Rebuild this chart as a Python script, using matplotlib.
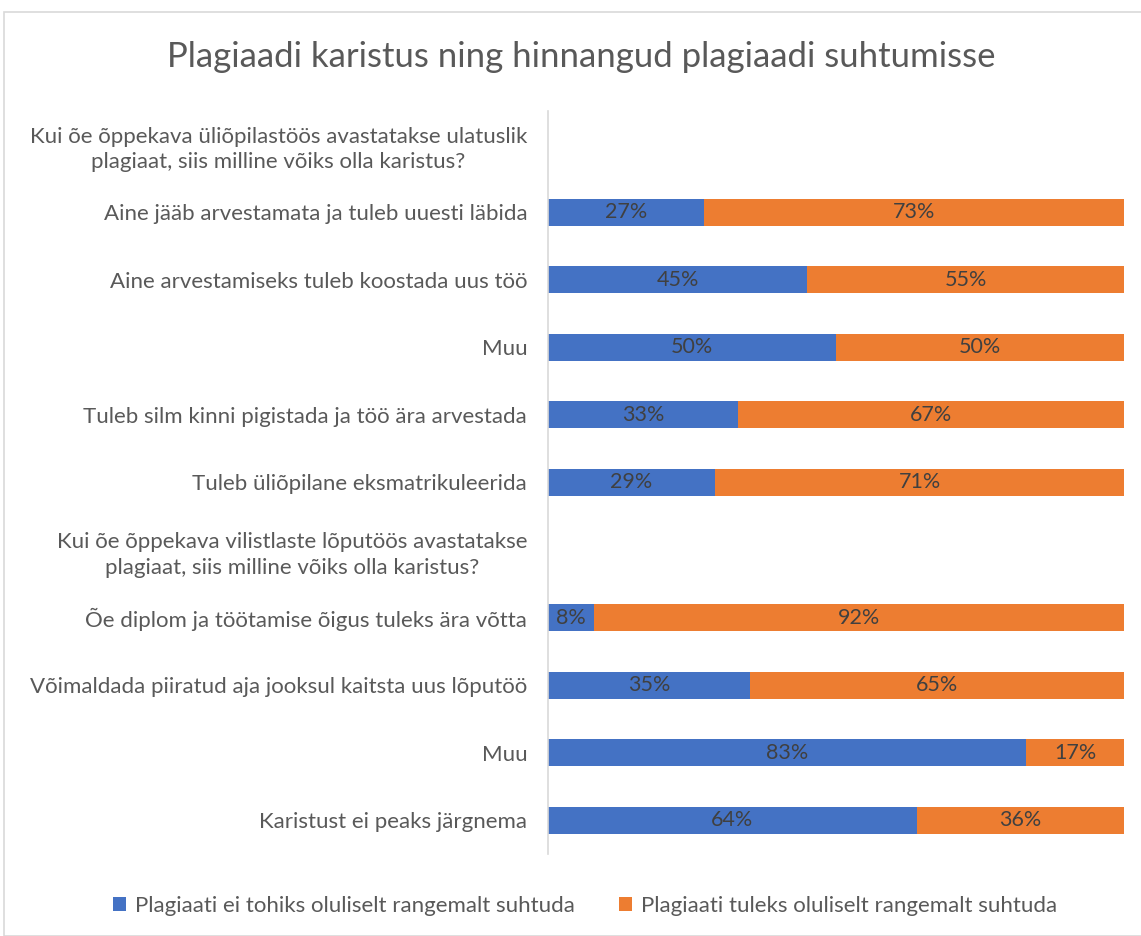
import matplotlib
matplotlib.use("Agg")
import matplotlib.pyplot as plt
from matplotlib.patches import Rectangle

plt.rcParams['font.family'] = ['Lato', 'DejaVu Sans']

categories = [
    "Kui õe õppekava üliõpilastöös avastatakse ulatuslik\nplagiaat, siis milline võiks olla karistus?",
    "Aine jääb arvestamata ja tuleb uuesti läbida",
    "Aine arvestamiseks tuleb koostada uus töö",
    "Muu",
    "Tuleb silm kinni pigistada ja töö ära arvestada",
    "Tuleb üliõpilane eksmatrikuleerida",
    "Kui õe õppekava vilistlaste lõputöös avastatakse\nplagiaat, siis milline võiks olla karistus?",
    "Õe diplom ja töötamise õigus tuleks ära võtta",
    "Võimaldada piiratud aja jooksul kaitsta uus lõputöö",
    "Muu",
    "Karistust ei peaks järgnema",
]
series_names = ["Plagiaati ei tohiks oluliselt rangemalt suhtuda",
                "Plagiaati tuleks oluliselt rangemalt suhtuda"]
not_stricter = [None, 27, 45, 50, 33, 29, None, 8, 35, 83, 64]
stricter = [None, 73, 55, 50, 67, 71, None, 92, 65, 17, 36]
colors = ["#4472C4", "#ED7D31"]

W, H = 1141, 936
fig = plt.figure(figsize=(W / 100, H / 100), dpi=100)
fig.patches.append(Rectangle((4 / W, 0), 1.2, 1 - 12 / H, transform=fig.transFigure,
                             fill=False, edgecolor="#D9D9D9", linewidth=1.2))

ax = fig.add_axes([548 / W, 1 - 854 / H, (1124 - 548) / W, (854 - 111) / H])
n = len(categories)
ys = list(range(n))
for i, (a, b) in enumerate(zip(not_stricter, stricter)):
    if a is None:
        continue
    ax.barh(i, a, height=0.4, color=colors[0], label=series_names[0] if i == 1 else None)
    ax.barh(i, b, left=a, height=0.4, color=colors[1], label=series_names[1] if i == 1 else None)
    ax.text(a / 2, i, f"{a}%", ha="center", va="center", fontsize=15.5, color="#404040")
    ax.text(a + b / 2, i, f"{b}%", ha="center", va="center", fontsize=15.5, color="#404040")

ax.set_xlim(0, 100)
ax.set_ylim(n - 0.5, -0.5)
ax.set_yticks(ys)
ax.set_yticklabels(categories, fontsize=16, color="#595959", multialignment="center",
                   linespacing=1.35)
ax.tick_params(axis="y", length=0, pad=15)
ax.set_xticks([])
for s in ["top", "right", "bottom"]:
    ax.spines[s].set_visible(False)
ax.spines["left"].set_color("#D9D9D9")
ax.spines["left"].set_linewidth(1.2)

fig.text(581 / W, 1 - 57 / H, "Plagiaadi karistus ning hinnangud plagiaadi suhtumisse",
         ha="center", va="center", fontsize=25, color="#595959")

handles, labels = ax.get_legend_handles_labels()
fig.legend(handles, labels, loc="center", bbox_to_anchor=(585 / W, 1 - 906 / H), ncol=2,
           frameon=False, fontsize=16, labelcolor="#595959", handlelength=0.6,
           handleheight=0.6, handletextpad=0.4, columnspacing=2.0)

fig.savefig("out.png", dpi=100, facecolor="white")
